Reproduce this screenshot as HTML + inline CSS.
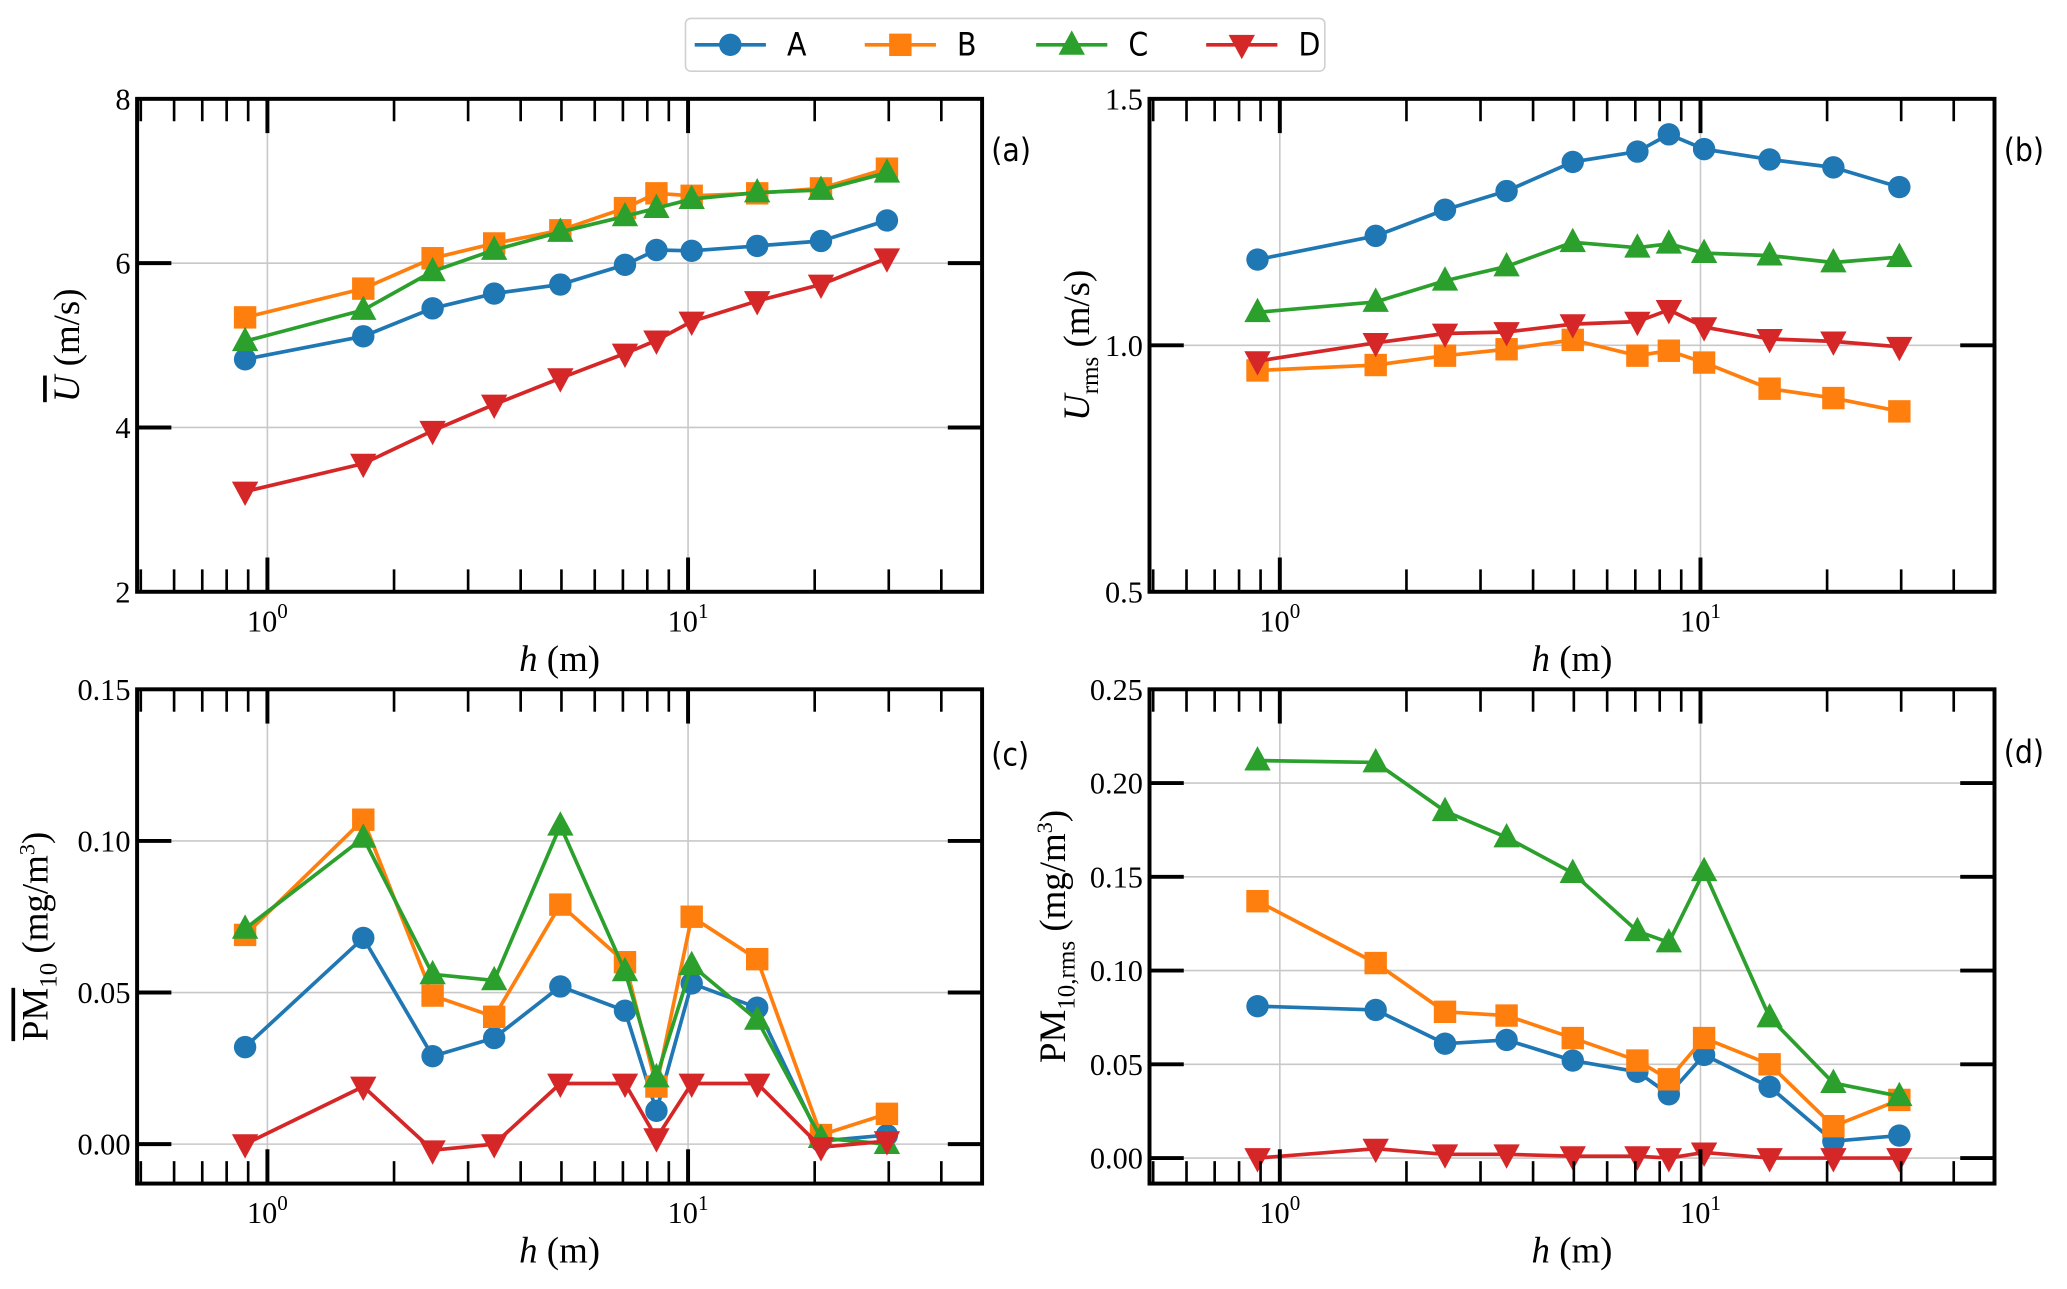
<!DOCTYPE html>
<html><head><meta charset="utf-8"><style>
html,body{margin:0;padding:0;background:#fff;}
svg{display:block;}
.tk{font-family:"Liberation Serif",serif;font-size:23px;fill:#000;}
.lab{font-family:"Liberation Serif",serif;font-size:28px;fill:#000;}
.pl{font-family:"DejaVu Sans Condensed","DejaVu Sans","Liberation Sans",sans-serif;font-size:24px;fill:#000;}
</style></head><body>
<svg id="fig" xmlns="http://www.w3.org/2000/svg" width="2067" height="1289" viewBox="0 0 1568 978" preserveAspectRatio="none"></svg>
<script>
const heights = [0.885, 1.69, 2.47, 3.46, 4.97, 7.08, 8.41, 10.2, 14.6, 20.7, 29.7];
const seriesNames = ["A","B","C","D"];
const colors = ["#1f77b4","#ff7f0e","#2ca02c","#d62728"];
const markers = ["circle","square","tri-up","tri-down"];

const uMeanA = [4.83,5.11,5.45,5.63,5.74,5.98,6.16,6.15,6.21,6.27,6.52];
const uMeanB = [5.34,5.69,6.06,6.24,6.40,6.67,6.85,6.82,6.85,6.91,7.15];
const uMeanC = [5.05,5.43,5.90,6.16,6.38,6.57,6.67,6.78,6.86,6.89,7.10];
const uMeanD = [3.22,3.56,3.96,4.28,4.60,4.90,5.06,5.29,5.54,5.74,6.06];

const uRmsA = [1.174,1.222,1.275,1.313,1.372,1.393,1.428,1.398,1.377,1.361,1.321];
const uRmsB = [0.949,0.960,0.979,0.992,1.011,0.979,0.989,0.965,0.912,0.893,0.866];
const uRmsC = [1.067,1.088,1.131,1.160,1.209,1.198,1.206,1.187,1.182,1.168,1.179];
const uRmsD = [0.968,1.005,1.024,1.027,1.043,1.048,1.072,1.037,1.013,1.008,0.997];

const pmMeanA = [0.032,0.068,0.029,0.035,0.052,0.044,0.011,0.053,0.045,0.001,0.003];
const pmMeanB = [0.069,0.107,0.049,0.042,0.079,0.060,0.019,0.075,0.061,0.003,0.010];
const pmMeanC = [0.071,0.101,0.056,0.054,0.105,0.057,0.022,0.059,0.041,0.002,0.000];
const pmMeanD = [0.000,0.019,-0.002,0.000,0.020,0.020,0.002,0.020,0.020,-0.001,0.001];

const pmRmsA = [0.081,0.079,0.061,0.063,0.052,0.046,0.034,0.055,0.038,0.009,0.012];
const pmRmsB = [0.137,0.104,0.078,0.076,0.064,0.052,0.042,0.064,0.050,0.017,0.031];
const pmRmsC = [0.212,0.211,0.185,0.171,0.152,0.121,0.115,0.153,0.075,0.040,0.033];
const pmRmsD = [0.000,0.005,0.002,0.002,0.001,0.001,0.000,0.003,0.000,0.000,0.000];

const ticksA = [2,4,6,8], tickLabA = ["2","4","6","8"];
const ticksB = [0.5,1.0,1.5], tickLabB = ["0.5","1.0","1.5"];
const ticksC = [0.00,0.05,0.10,0.15], tickLabC = ["0.00","0.05","0.10","0.15"];
const ticksD = [0.00,0.05,0.10,0.15,0.20,0.25], tickLabD = ["0.00","0.05","0.10","0.15","0.20","0.25"];

const NS="http://www.w3.org/2000/svg";
const fig=document.getElementById('fig');
function mk(tag,attrs,parent){const e=document.createElementNS(NS,tag);for(const k in attrs)e.setAttribute(k,attrs[k]);(parent||fig).appendChild(e);return e;}

const XMIN=Math.log10(0.49), XMAX=Math.log10(50);

function marker(g,type,x,y,c){
  let e;
  if(type==="circle") e=mk('circle',{cx:x,cy:y,r:8.5,fill:c},g);
  else if(type==="square") e=mk('rect',{x:x-8.5,y:y-8.5,width:17,height:17,fill:c},g);
  else if(type==="tri-up") e=mk('polygon',{points:`${x},${y-11} ${x-10},${y+7.5} ${x+10},${y+7.5}`,fill:c},g);
  else e=mk('polygon',{points:`${x},${y+11} ${x-10},${y-7.5} ${x+10},${y-7.5}`,fill:c},g);
  return e;
}

function panel(id,L,T,W,H,ymin,ymax,ticks,tickLabs,series,ylabelHTML,ylabX,panelLab,labY){
  const g=mk('g',{});
  
  
  const xs=v=>L+(Math.log10(v)-XMIN)/(XMAX-XMIN)*W;
  const ys=v=>T+H-(v-ymin)/(ymax-ymin)*H;
  [1,10].forEach(d=>{const l=mk('line',{x1:xs(d),x2:xs(d),y1:T,y2:T+H,stroke:'#c8c8c8','stroke-width':1.2},g);});
  ticks.forEach(t=>{const l=mk('line',{x1:L,x2:L+W,y1:ys(t),y2:ys(t),stroke:'#c8c8c8','stroke-width':1.2},g);});
  series.forEach((vals,si)=>{
    const sg=mk('g',{},g);
    
    
    const pts=vals.map((v,i)=>xs(heights[i])+','+ys(v)).join(' ');
    mk('polyline',{points:pts,fill:'none',stroke:colors[si],'stroke-width':2.8,'stroke-linejoin':'round'},sg);
    vals.forEach((v,i)=>{const m=marker(sg,markers[si],xs(heights[i]),ys(v),colors[si]);});
  });
  const tg=mk('g',{stroke:'#000'},g);
  
  
  const minors=[0.5,0.6,0.7,0.8,0.9,2,3,4,5,6,7,8,9,20,30,40,50];
  minors.forEach(v=>{const x=xs(v);if(x<L+2||x>L+W-2)return;
    mk('line',{x1:x,x2:x,y1:T,y2:T+17,'stroke-width':2},tg);
    mk('line',{x1:x,x2:x,y1:T+H,y2:T+H-17,'stroke-width':2},tg);});
  [1,10].forEach(v=>{const x=xs(v);
    mk('line',{x1:x,x2:x,y1:T,y2:T+26,'stroke-width':3},tg);
    mk('line',{x1:x,x2:x,y1:T+H,y2:T+H-26,'stroke-width':3},tg);
    const t=mk('text',{x:x,y:T+H+30,'text-anchor':'middle',class:'tk'},g);
    
    t.innerHTML='10<tspan dy="-10" font-size="16">'+(v===1?'0':'1')+'</tspan>';});
  ticks.forEach((v,i)=>{const y=ys(v);
    if(y>T+2&&y<T+H-2){
      mk('line',{x1:L,x2:L+26,y1:y,y2:y,'stroke-width':3},tg);
      mk('line',{x1:L+W,x2:L+W-26,y1:y,y2:y,'stroke-width':3},tg);}
    const t=mk('text',{x:L-5,y:y+8,'text-anchor':'end',class:'tk'},g);
    
    t.textContent=tickLabs[i];});
  const fr=mk('rect',{x:L,y:T,width:W,height:H,fill:'none',stroke:'#000','stroke-width':3},g);
  
  const xl=mk('text',{x:L+W/2,y:T+H+60,'text-anchor':'middle',class:'lab'},g);
  
  xl.innerHTML='<tspan font-style="italic">h</tspan> (m)';
  const yl=mk('text',{x:ylabX,y:T+H/2,'text-anchor':'middle',class:'lab',transform:`rotate(-90 ${ylabX} ${T+H/2})`},g);
  
  yl.innerHTML=ylabelHTML;
  const pl=mk('text',{x:L+W+7,y:labY,class:'pl'},g);
  
  pl.textContent=panelLab;
}

panel('a',104,75,641,374,2,8,ticksA,tickLabA,[uMeanA,uMeanB,uMeanC,uMeanD],
  '<tspan font-style="italic" text-decoration="overline">U</tspan> (m/s)',60,'(a)',122);
panel('b',872,75,641,374,0.5,1.5,ticksB,tickLabB,[uRmsA,uRmsB,uRmsC,uRmsD],
  '<tspan font-style="italic">U</tspan><tspan dy="7" font-size="19">rms</tspan><tspan dy="-7"> (m/s)</tspan>',826,'(b)',122);
panel('c',104,523,641,375,-0.013,0.15,ticksC,tickLabC,[pmMeanA,pmMeanB,pmMeanC,pmMeanD],
  '<tspan text-decoration="overline">PM</tspan><tspan dy="7" font-size="19">10</tspan><tspan dy="-7"> (mg/m</tspan><tspan dy="-10" font-size="17">3</tspan><tspan dy="10">)</tspan>',36,'(c)',581);
panel('d',872,523,641,375,-0.0136,0.25,ticksD,tickLabD,[pmRmsA,pmRmsB,pmRmsC,pmRmsD],
  'PM<tspan dy="7" font-size="19">10,rms</tspan><tspan dy="-7"> (mg/m</tspan><tspan dy="-10" font-size="17">3</tspan><tspan dy="10">)</tspan>',808,'(d)',579);

const lg=mk('g',{});


mk('rect',{x:520,y:14,width:485,height:40,rx:4,fill:'#fff',stroke:'#d0d0d0','stroke-width':1.2},lg);
const lx=[527,656,786,915];
seriesNames.forEach((n,i)=>{
  const eg=mk('g',{},lg);
  
  
  mk('line',{x1:lx[i],x2:lx[i]+54,y1:34,y2:34,stroke:colors[i],'stroke-width':2.8},eg);
  marker(eg,markers[i],lx[i]+27,34,colors[i]);
  const t=mk('text',{x:lx[i]+70,y:42,class:'pl'},eg);
  t.textContent=n;
});
</script>
</body></html>
